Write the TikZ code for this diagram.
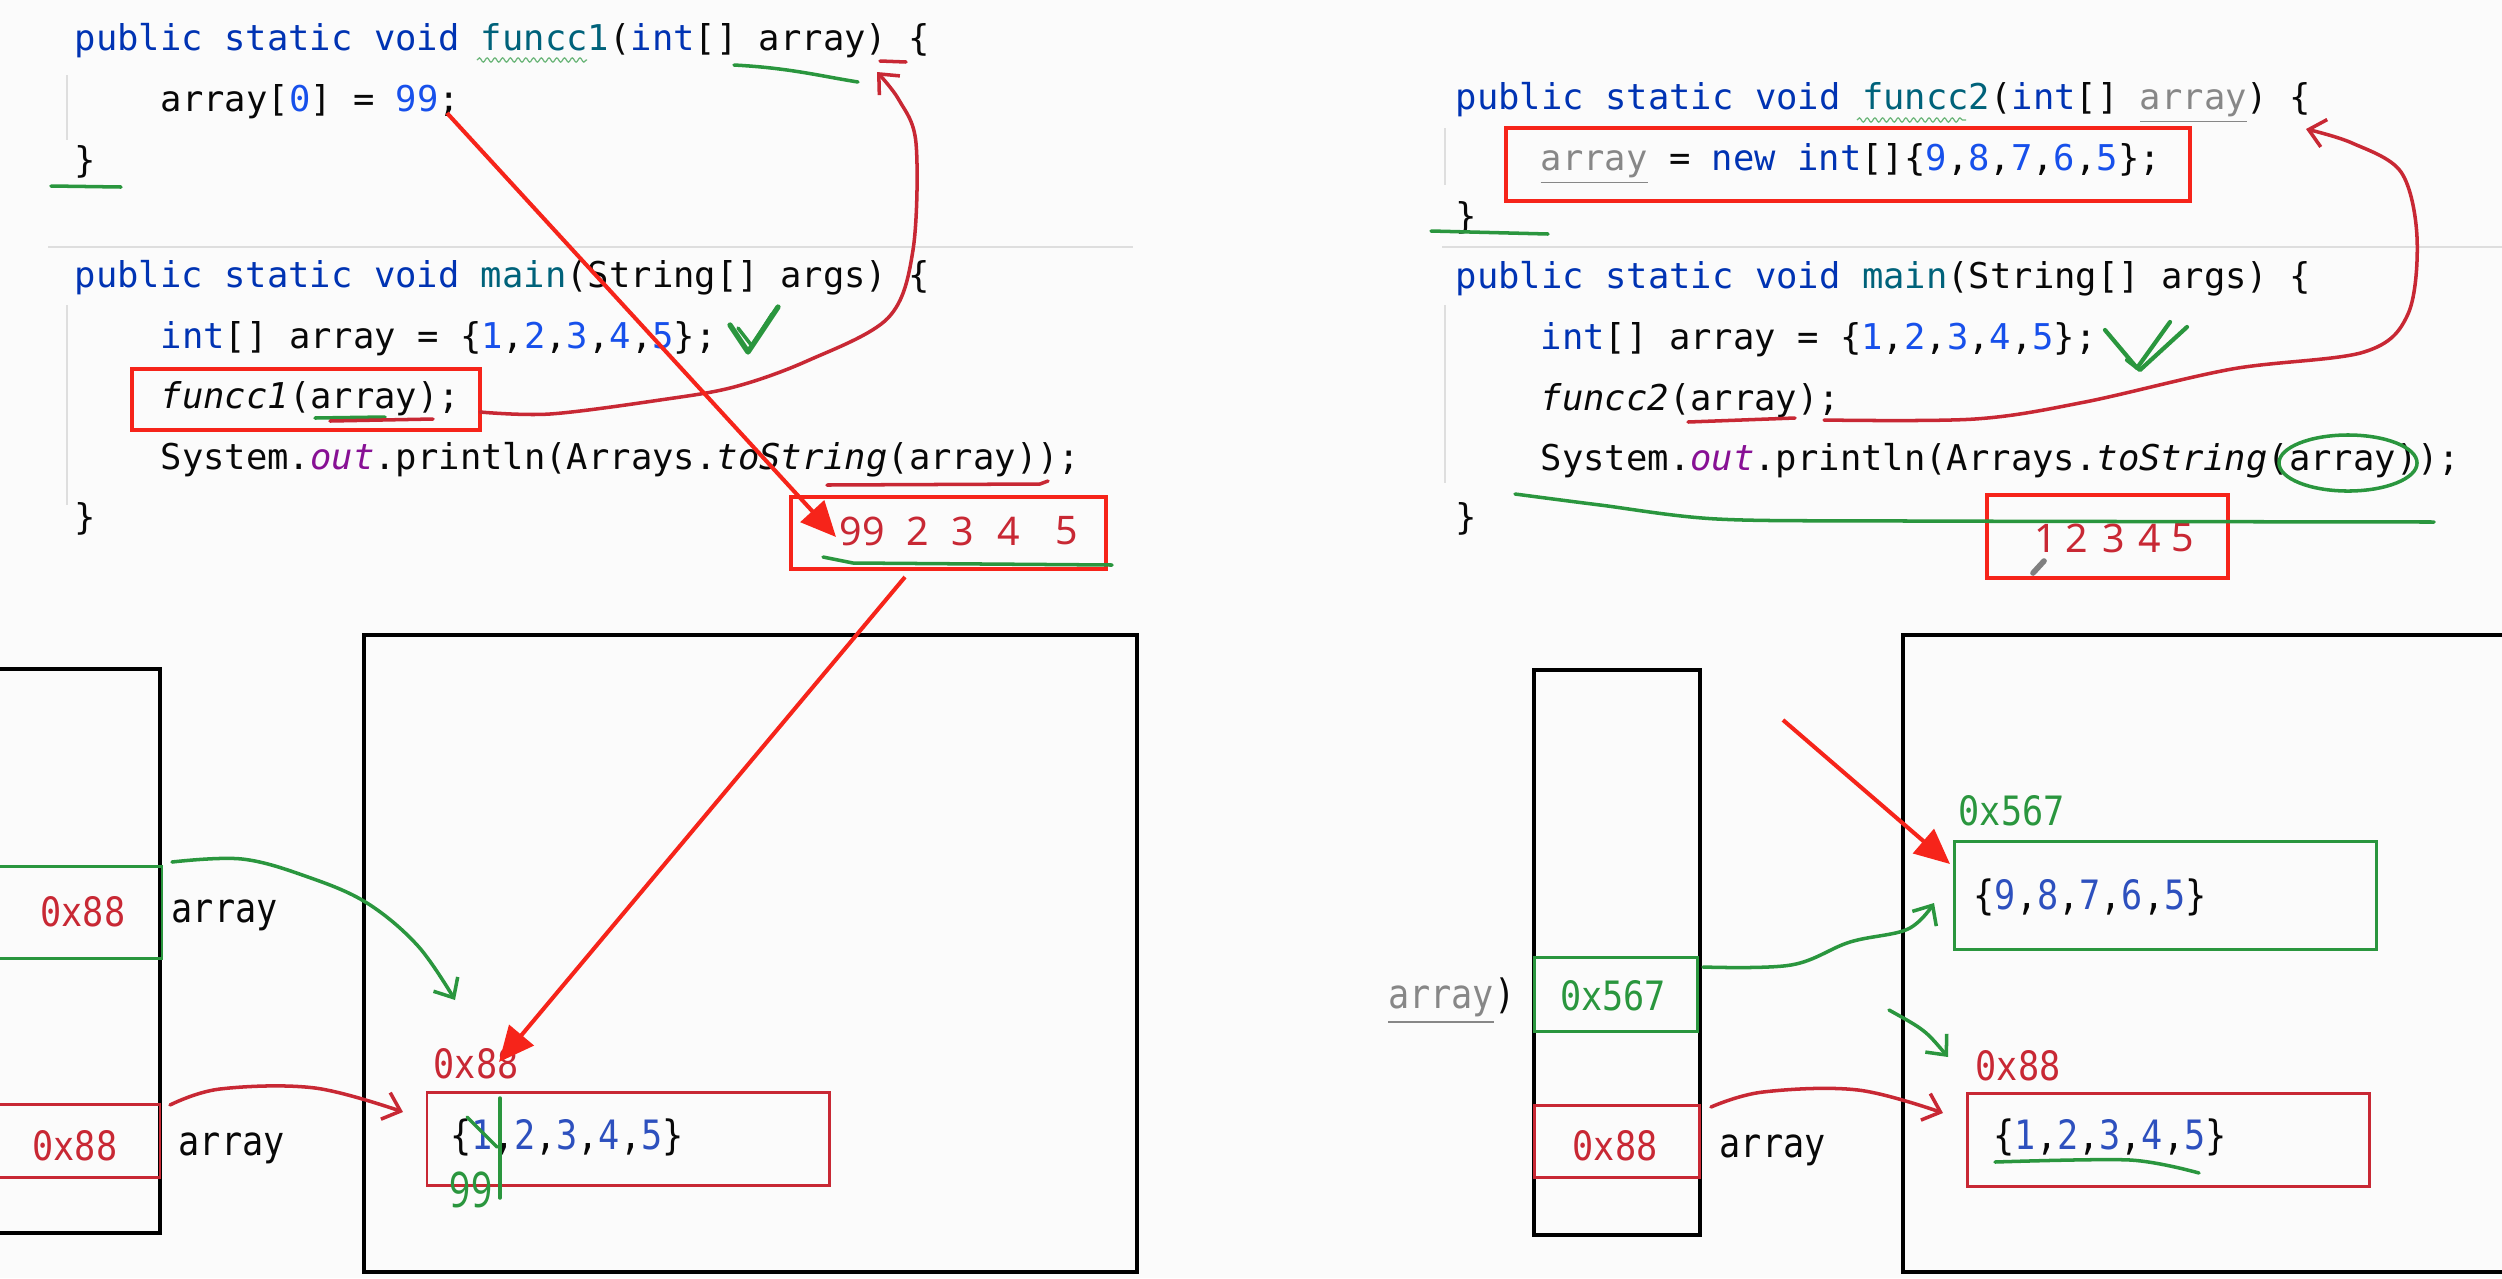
\documentclass[tikz,border=0pt]{standalone}
\usepackage{fontspec}
\usetikzlibrary{arrows.meta,decorations.pathmorphing}
\newfontfamily\cf{DejaVu Sans Mono}
\newfontfamily\mf[FakeStretch=0.87]{DejaVu Sans Mono}
\newfontfamily\of{Noto Sans}
\definecolor{kwc}{RGB}{0,51,179}
\definecolor{fnc}{RGB}{0,98,122}
\definecolor{numc}{RGB}{23,80,235}
\definecolor{purp}{RGB}{135,16,148}
\definecolor{grayc}{RGB}{135,135,135}
\definecolor{txt}{RGB}{8,8,8}
\definecolor{bred}{RGB}{246,36,26}
\definecolor{dred}{RGB}{200,40,52}
\definecolor{hgreen}{RGB}{42,150,62}
\definecolor{memblue}{RGB}{45,80,190}
\definecolor{sepc}{RGB}{222,222,222}
\definecolor{bgc}{RGB}{251,251,251}
\newcommand\ckw[1]{\textcolor{kwc}{#1}}
\newcommand\cfn[1]{\textcolor{fnc}{#1}}
\newcommand\cnum[1]{\textcolor{numc}{#1}}
\newcommand\cmn[1]{\textcolor{memblue}{#1}}
\newcommand\cun[1]{\textcolor{grayc}{\underline{#1}}}
\tikzset{
  code/.style={font=\cf\fontsize{10.1pt}{12pt}\selectfont, text=txt, inner sep=0pt, anchor=base west},
  mem/.style={font=\mf\fontsize{11.5pt}{13pt}\selectfont, text=txt, inner sep=0pt},
  outd/.style={font=\of\fontsize{11.2pt}{13pt}\selectfont, text=dred, inner sep=0pt},
  redbox/.style={draw=bred, line width=1.15pt},
  blackbox/.style={draw=black, line width=1pt},
  mred/.style={draw=dred, line width=0.85pt},
  mgreen/.style={draw=hgreen, line width=0.85pt},
  bigarrow/.style={draw=bred, line width=1.15pt, -{Triangle[length=10pt,width=9pt]}},
  hand/.style={line width=1pt, line cap=round, line join=round},
  barb/.style={-{Straight Barb[length=4.5pt,width=8pt]}},
  guide/.style={draw=sepc, line width=0.5pt},
  squig/.style={draw=hgreen!70, line width=0.35pt, decorate, decoration={snake, amplitude=0.6pt, segment length=2.2pt}}
}
\begin{document}
\begin{tikzpicture}[x=0.01cm,y=-0.01cm]
\fill[bgc] (0,0) rectangle (2502,1278);
\useasboundingbox (0,0) rectangle (2502,1278);
\clip (0,0) rectangle (2502,1278);

% ---------- left code ----------
\draw[guide] (67,75) -- (67,140);
\draw[guide] (67,305) -- (67,505);
\draw[sepc, line width=0.7pt] (48,247) -- (1133,247);
\node[code] (c1) at (74,50) {\ckw{public static void} \cfn{funcc1}(\ckw{int}[] array) \{};
\node[code] (c2) at (160,111) {array[\cnum{0}] = \cnum{99};};
\node[code] (c3) at (74,172) {\}};
\node[code] (m1) at (74,287) {\ckw{public static void} \cfn{main}(String[] args) \{};
\node[code] (m2) at (160,348) {\ckw{int}[] array = \{\cnum{1},\cnum{2},\cnum{3},\cnum{4},\cnum{5}\};};
\node[code] (m3) at (160,408) {{\itshape funcc1}(array);};
\node[code] (m4) at (160,469) {System.{\itshape\textcolor{purp}{out}}.println(Arrays.{\itshape toString}(array));};
\node[code] (m5) at (74,529) {\}};
\draw[squig] (477,60) -- (587,60);

\draw[redbox] (132,369) rectangle (480,430);
\draw[redbox] (791,497) rectangle (1106,569);
\node[outd] (o1) at (862,531) {99};
\node[outd] (o2) at (918,531) {2};
\node[outd] (o3) at (963,531) {3};
\node[outd] (o4) at (1009,531) {4};
\node[outd] (o5) at (1067,531) {5};

% handwritten marks (left code)
\draw[hand, hgreen] (734,65) .. controls (790,68) and (820,76) .. (858,82);
\draw[hand, dred] (880,61) -- (906,62);
\draw[hand, hgreen] (51,186) -- (121,187);
\draw[hand, hgreen, line width=1.5pt] (730,325) -- (748,352) -- (778,307);
\draw[hand, hgreen] (738,328) -- (752,346) -- (772,314);
\draw[hand, hgreen] (315,418) -- (385,417);
\draw[hand, dred] (330,421) -- (433,419);
\draw[hand, dred] (827,485) -- (1040,484) -- (1048,481);
\draw[hand, hgreen] (823,557) -- (853,563) -- (1112,565);
\coordinate (lcs) at (480,412);
\coordinate (lce) at (877,72);
\draw[hand, dred, barb] plot[smooth, tension=0.55] coordinates {(lcs) (550,414) (660,400) (734,387) (807,361) (888,318) (913,250) (916,143) (899,100) (lce)};

% ---------- left memory ----------
\draw[blackbox] (-20,669) rectangle (160,1233);
\draw[mgreen] (-20,866) rectangle (162,958);
\draw[mred] (-20,1104) rectangle (160,1177);
\node[mem, text=dred] (lsA) at (83,912) {0x88};
\node[mem, anchor=west] (lsAn) at (171,915) {array};
\node[mem, text=dred] (lsB) at (75,1146) {0x88};
\node[mem, anchor=west] (lsBn) at (178,1148) {array};
\draw[blackbox] (364,635) rectangle (1137,1272);
\node[mem, text=dred, anchor=west] (lh0) at (433,1064) {0x88};
\draw[mred] (427,1092) rectangle (829,1185);
\node[mem, anchor=west] (lh1) at (450,1137) {\{\cmn{1},\cmn{2},\cmn{3},\cmn{4},\cmn{5}\}};
\draw[hand, hgreen] (467,1117) -- (497,1147);
\draw[hand, hgreen] (500,1098) -- (500,1198);
\node[text=hgreen, font=\of\fontsize{14pt}{14pt}\selectfont, inner sep=0pt] (h99) at (471,1190) {\scalebox{0.75}[1]{99}};

\coordinate (lgs) at (172,862);
\coordinate (lge) at (455,1000);
\draw[hand, hgreen, barb] plot[smooth, tension=0.6] coordinates {(lgs) (242,859) (308,877) (367,903) (418,946) (lge)};
\coordinate (lrs) at (170,1105);
\coordinate (lre) at (403,1112);
\draw[hand, dred, barb] plot[smooth, tension=0.6] coordinates {(lrs) (220,1089) (315,1088) (lre)};

\coordinate (a1s) at (447,113);
\coordinate (a1e) at (836,537);
\draw[bigarrow] (a1s) -- (a1e);
\coordinate (a2s) at (905,577);
\coordinate (a2e) at (499,1062);
\draw[bigarrow] (a2s) -- (a2e);

% ---------- right code ----------
\draw[guide] (1445,128) -- (1445,185);
\draw[guide] (1445,305) -- (1445,483);
\draw[sepc, line width=0.7pt] (1442,247) -- (2502,247);
\node[code] (r1) at (1455,109) {\ckw{public static void} \cfn{funcc2}(\ckw{int}[] \cun{array}) \{};
\node[code] (r2) at (1540,170) {\cun{array} = \ckw{new int}[]\{\cnum{9},\cnum{8},\cnum{7},\cnum{6},\cnum{5}\};};
\node[code] (r3) at (1455,228) {\}};
\node[code] (n1) at (1455,288) {\ckw{public static void} \cfn{main}(String[] args) \{};
\node[code] (n2) at (1540,349) {\ckw{int}[] array = \{\cnum{1},\cnum{2},\cnum{3},\cnum{4},\cnum{5}\};};
\node[code] (n3) at (1540,410) {{\itshape funcc2}(array);};
\node[code] (n4) at (1540,470) {System.{\itshape\textcolor{purp}{out}}.println(Arrays.{\itshape toString}(array));};
\node[code] (n5) at (1455,529) {\}};
\draw[squig] (1857,120) -- (1966,120);

\draw[redbox] (1506,128) rectangle (2190,201);
\draw[redbox] (1987,495) rectangle (2228,578);
\node[outd] (p1) at (2046,538) {1};
\node[outd] (p2) at (2077,538) {2};
\node[outd] (p3) at (2114,538) {3};
\node[outd] (p4) at (2150,538) {4};
\node[outd] (p5) at (2183,538) {5};
\draw[gray, line width=1.6pt, line cap=round] (2033,573) -- (2044,561);

% handwritten marks (right code)
\draw[hand, hgreen] (1431,231) -- (1548,234);
\draw[hand, hgreen, line width=1.2pt] (2105,330) -- (2137,368) -- (2170,322);
\draw[hand, hgreen, line width=1.2pt] (2127,360) -- (2140,370) -- (2187,327);
\draw[hand, dred] (1688,422) -- (1795,418);
\draw[hand, hgreen] (2348,463) ellipse [x radius=0.69cm, y radius=0.28cm];
\draw[hand, hgreen] plot[smooth, tension=0.5] coordinates {(1515,494) (1600,505) (1717,519) (1908,521) (2434,522)};
\coordinate (rcs) at (1824,420);
\coordinate (rce) at (2306,129);
\draw[hand, dred, barb] plot[smooth, tension=0.55] coordinates {(rcs) (1975,419) (2085,402) (2232,369) (2364,352) (2408,314) (2417,237) (2401,172) (2352,143) (rce)};

% ---------- right memory ----------
\draw[blackbox] (1534,670) rectangle (1700,1235);
\draw[mgreen] (1534,957) rectangle (1697,1031);
\draw[mred] (1534,1105) rectangle (1699,1177);
\node[mem, text=hgreen] (rsA) at (1613,996) {0x567};
\node[mem, anchor=east] (rsAn) at (1516,1001) {\cun{array})};
\node[mem, text=dred] (rsB) at (1615,1146) {0x88};
\node[mem, anchor=west] (rsBn) at (1719,1150) {array};
\draw[blackbox] (1903,635) rectangle (2540,1272);
\node[mem, text=hgreen, anchor=west] (rh0) at (1958,811) {0x567};
\draw[mgreen] (1954,841) rectangle (2376,949);
\node[mem, anchor=west] (rh1) at (1973,897) {\{\cmn{9},\cmn{8},\cmn{7},\cmn{6},\cmn{5}\}};
\node[mem, text=dred, anchor=west] (rh2) at (1975,1066) {0x88};
\draw[mred] (1967,1093) rectangle (2369,1186);
\node[mem, anchor=west] (rh3) at (1993,1137) {\{\cmn{1},\cmn{2},\cmn{3},\cmn{4},\cmn{5}\}};
\draw[hand, hgreen] plot[smooth, tension=0.5] coordinates {(1995,1162) (2130,1160) (2199,1173)};

\coordinate (rgs) at (1703,967);
\coordinate (rge) at (1934,903);
\draw[hand, hgreen, barb] plot[smooth, tension=0.6] coordinates {(rgs) (1791,965) (1850,942) (1908,929) (rge)};
\coordinate (rg2s) at (1889,1010);
\coordinate (rg2e) at (1948,1057);
\draw[hand, hgreen, barb] (rg2s) .. controls (1925,1030) .. (rg2e);
\coordinate (rrs) at (1711,1107);
\coordinate (rre) at (1943,1113);
\draw[hand, dred, barb] plot[smooth, tension=0.6] coordinates {(rrs) (1763,1092) (1858,1090) (rre)};
\coordinate (a3s) at (1783,720);
\coordinate (a3e) at (1950,864);
\draw[bigarrow] (a3s) -- (a3e);
\end{tikzpicture}
\end{document}
